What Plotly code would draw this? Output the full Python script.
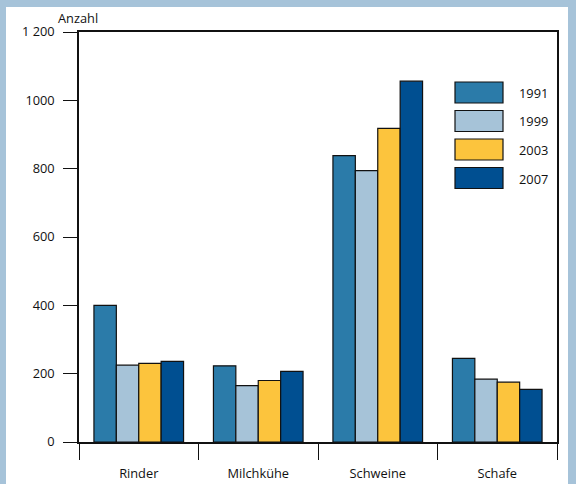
import plotly.graph_objects as go

categories = ["Rinder", "Milchkühe", "Schweine", "Schafe"]
years = ["1991", "1999", "2003", "2007"]
values = {
    "1991": [400, 223, 838, 245],
    "1999": [225, 165, 794, 184],
    "2003": [230, 180, 918, 175],
    "2007": [236, 207, 1056, 154],
}
colors = {"1991": "#2b7ba9", "1999": "#a6c3d8", "2003": "#fcc43d", "2007": "#004f91"}
ytick_vals = [0, 200, 400, 600, 800, 1000, 1200]
ytick_text = ["0", "200", "400", "600", "800", "1000", "1 200"]

W, H = 576, 484
ml, mr, mt, mb = 79, 19, 32, 42
pw, ph = W - ml - mr, H - mt - mb

def px2x(px):
    return (px - ml) / pw

def px2y(py):
    return (H - mb - py) / ph

fig = go.Figure()
for y in years:
    fig.add_trace(go.Bar(
        x=categories, y=values[y], name=y,
        marker=dict(color=colors[y], line=dict(color="#111111", width=1.2)),
        showlegend=False,
    ))

font = dict(family="Open Sans, DejaVu Sans, sans-serif", size=12.8, color="#111111")

shapes = [
    dict(type="rect", xref="paper", yref="paper", layer="below",
         x0=px2x(6), x1=px2x(568), y0=px2y(7), y1=px2y(500),
         fillcolor="white", line=dict(width=0)),
]
annotations = [
    dict(text="Anzahl", xref="paper", yref="paper", x=px2x(56), y=px2y(18),
         xanchor="left", yanchor="middle", showarrow=False, font=font),
]
# legend built from boxes
for i, y in enumerate(years):
    top = 82 + i * 28.5
    shapes.append(dict(type="rect", xref="paper", yref="paper",
                       x0=px2x(455), x1=px2x(503), y0=px2y(top), y1=px2y(top + 21),
                       fillcolor=colors[y], line=dict(color="#111111", width=1.2)))
    annotations.append(dict(text=y, xref="paper", yref="paper", x=px2x(517),
                            y=px2y(top + 11), xanchor="left", yanchor="middle",
                            showarrow=False, font=font))

fig.update_layout(
    width=W, height=H,
    margin=dict(l=ml, r=mr, t=mt, b=mb),
    paper_bgcolor="#a6c3d9",
    plot_bgcolor="white",
    barmode="group", bargap=0.25, bargroupgap=0,
    font=font,
    shapes=shapes, annotations=annotations,
    xaxis=dict(type="category", showline=True, linecolor="#111111", linewidth=1.5,
               mirror=True, ticks="outside", tickson="boundaries", ticklen=16,
               tickcolor="#111111", tickwidth=1, showgrid=False, zeroline=False,
               tickfont=font, ticklabelstandoff=19, automargin=False),
    yaxis=dict(range=[0, 1200], tickvals=ytick_vals, ticktext=ytick_text,
               showline=True, linecolor="#111111", linewidth=1.5, mirror=True,
               ticks="outside", ticklen=14, tickcolor="#111111", tickwidth=1,
               showgrid=False, zeroline=False, tickfont=font, ticklabelstandoff=6,
               automargin=False),
)

fig.write_html("out.html", config={"displayModeBar": False},
               post_script="document.body.style.margin='0';document.body.style.overflow='hidden';")
